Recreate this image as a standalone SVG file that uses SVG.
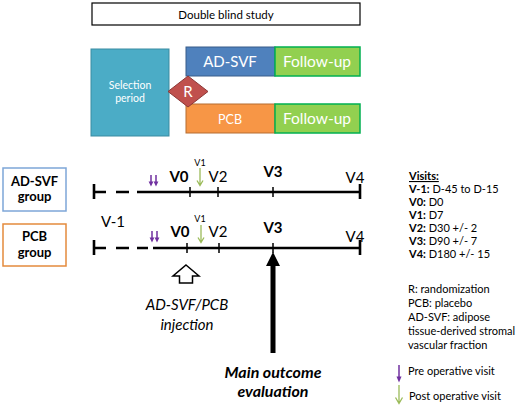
<svg xmlns="http://www.w3.org/2000/svg" width="520" height="410" viewBox="0 0 520 410">
<style>
text{font-family:Lato,"Open Sans","Liberation Sans",sans-serif;fill:#000}
.w{fill:#fff}
.c{text-anchor:middle}
.b{font-weight:bold}
.tl{stroke:#000;stroke-width:2.6;fill:none}
.tk{stroke:#000;stroke-width:1.5}
.leg text,.vis text{font-size:11px}
.pu{stroke:#7030A0;stroke-width:1.5;fill:none}
.puh{fill:#7030A0}
.gr{stroke:#9BBB59;stroke-width:1.3;fill:none}
</style>
<rect width="520" height="410" fill="#fff"/>
<g id="double-blind"><rect x="92" y="3" width="268" height="22" fill="#fff" stroke="#000" stroke-width="1.2"/><text x="226" y="18.5" class="c" font-size="11.5">Double blind study</text></g>
<g id="selection"><rect x="91" y="49" width="78" height="87" fill="#4BACC6" stroke="#3B8BA1" stroke-width="1"/><text x="130" y="89" class="c w" font-size="10.5">Selection</text><text x="130" y="102" class="c w" font-size="10.5">period</text></g>
<g id="adsvf"><rect x="186" y="47" width="89" height="29" fill="#4F81BD" stroke="#385D8A" stroke-width="1"/><text x="230" y="67" class="c w" font-size="15">AD-SVF</text></g>
<g id="fu1"><rect x="275" y="47" width="85" height="29" fill="#92D050" stroke="#00B050" stroke-width="1.5"/><text x="317" y="67" class="c w" font-size="15.5">Follow-up</text></g>
<g id="pcb"><rect x="186" y="104" width="89" height="29" fill="#F79646" stroke="#B66D31" stroke-width="1"/><text x="230" y="124" class="c w" font-size="12.5">PCB</text></g>
<g id="fu2"><rect x="275" y="104" width="85" height="29" fill="#92D050" stroke="#00B050" stroke-width="1.5"/><text x="317" y="124" class="c w" font-size="15.5">Follow-up</text></g>
<g id="R"><path d="M188,76L208,91.5L188,107L168,91.5z" fill="#C0504D" stroke="#8C3836" stroke-width="1"/><text x="188" y="97" class="c w" font-size="15">R</text></g>
<g id="grp-adsvf"><rect x="3" y="168" width="63" height="43" fill="#fff" stroke="#7EA6D8" stroke-width="1.5"/><text x="34.5" y="186" class="c b" font-size="13">AD-SVF</text><text x="34.5" y="201" class="c b" font-size="13">group</text></g>
<g id="grp-pcb"><rect x="3" y="224" width="63" height="42" fill="#fff" stroke="#E48A3C" stroke-width="1.5"/><text x="34.5" y="241" class="c b" font-size="13">PCB</text><text x="34.5" y="257" class="c b" font-size="13">group</text></g>
<g id="connectors">
<g id="timeline1">
<path class="tl" d="M94,184V199M94,192H106M116,192H129M137,192H148M148,192H360M360,184V199"/>
<path class="tk" d="M190,187V197M218,187V197M273,187V197"/>
<path class="pu" d="M151,175V182M156,175V182"/>
<path class="puh" d="M148.6,181.5H153.4L151,186.5zM153.6,181.5H158.4L156,186.5z"/>
<path class="gr" d="M200,168V185M197,180.5L200,185.5L203,180.5"/>
</g>
<g id="timeline2">
<path class="tl" d="M94,240V255M94,248H106M116,248H129M137,248H148M153,248H360M360,240V255"/>
<path class="tk" d="M187,243V253M219,243V253M273,243V253"/>
<path class="pu" d="M152,231V238M157,231V238"/>
<path class="puh" d="M149.6,237.5H154.4L152,242.5zM154.6,237.5H159.4L157,242.5z"/>
<path class="gr" d="M201,225V242M198,237.5L201,242.5L204,237.5"/>
</g>
<path id="inj-arrow" d="M186,265L199,276H192.5V283H179.5V276H173z" fill="#fff" stroke="#000" stroke-width="1.5"/>
<path id="main-arrow" d="M273,252L280,266H275.5V353H270.5V266H266z" fill="#000"/>
</g>
<g id="visit-labels">
<text x="179" y="182" class="c b" font-size="15">V0</text>
<text x="200" y="166" class="c" font-size="9">V1</text>
<text x="218" y="182" class="c" font-size="15">V2</text>
<text x="273" y="177" class="c b" font-size="15">V3</text>
<text x="355" y="183" class="c" font-size="15">V4</text>
<text x="113" y="227" class="c" font-size="15">V-1</text>
<text x="180" y="237" class="c b" font-size="15">V0</text>
<text x="200" y="222" class="c" font-size="9">V1</text>
<text x="218" y="237" class="c" font-size="15">V2</text>
<text x="273" y="233" class="c b" font-size="15">V3</text>
<text x="355" y="242" class="c" font-size="15">V4</text>
</g>
<g id="injection-label"><text x="187" y="310" class="c" font-size="15" font-style="italic">AD-SVF/PCB</text><text x="187" y="330" class="c" font-size="15" font-style="italic">injection</text></g>
<g id="main-label"><text x="273" y="378" class="c b" font-size="16" font-style="italic">Main outcome</text><text x="273" y="397" class="c b" font-size="16" font-style="italic">evaluation</text></g>
<g id="legend-visits" class="vis">
<text x="409" y="180" class="b" text-decoration="underline">Visits:</text>
<text x="409" y="193"><tspan class="b">V-1:</tspan> D-45 to D-15</text>
<text x="409" y="206"><tspan class="b">V0:</tspan> D0</text>
<text x="409" y="219"><tspan class="b">V1:</tspan> D7</text>
<text x="409" y="232"><tspan class="b">V2:</tspan> D30 +/- 2</text>
<text x="409" y="245"><tspan class="b">V3:</tspan> D90 +/- 7</text>
<text x="409" y="258"><tspan class="b">V4:</tspan> D180 +/- 15</text>
</g>
<g id="legend-abbr" class="leg">
<text x="408" y="293">R: randomization</text>
<text x="408" y="307">PCB: placebo</text>
<text x="408" y="321">AD-SVF: adipose</text>
<text x="408" y="335">tissue-derived stromal</text>
<text x="408" y="349">vascular fraction</text>
</g>
<g id="legend-arrows" class="leg">
<path class="pu" d="M399,365V377"/>
<path class="puh" d="M396.5,376.5H401.5L399,382.5z"/>
<text x="408" y="375">Pre operative visit</text>
<path class="gr" d="M399,385V403M395.5,397.5L399,403.5L402.5,397.5"/>
<text x="409" y="400">Post operative visit</text>
</g>
</svg>
